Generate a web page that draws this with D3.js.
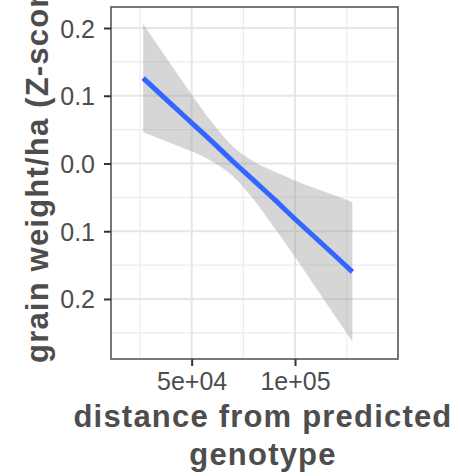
<!DOCTYPE html>
<html>
<head>
<meta charset="utf-8">
<script src="https://cdn.jsdelivr.net/npm/d3@7"></script>
<style>
  html, body { margin: 0; padding: 0; background: #fff; }
  svg { display: block; }
</style>
</head>
<body>
<svg id="chart" width="461" height="476"></svg>
<script>
// ---- data ----
const distance = [26570, 40000, 50000, 60000, 70000, 80000, 90000, 100000, 110000, 120000, 127730];
const fitted   = [0.126, 0.088, 0.060, 0.032, 0.003, -0.025, -0.053, -0.082, -0.110, -0.138, -0.160];
const upperCI  = [0.206, 0.146, 0.102, 0.060, 0.025, 0.003, -0.012, -0.025, -0.037, -0.048, -0.057];
const lowerCI  = [0.046, 0.030, 0.018, 0.003, -0.019, -0.053, -0.095, -0.138, -0.183, -0.228, -0.263];

const yTickValues = [0.2, 0.1, 0.0, -0.1, -0.2];
const yTickLabels = ["0.2", "0.1", "0.0", "0.1", "0.2"];
const yMinorValues = [0.15, 0.05, -0.05, -0.15, -0.25];
const xTickValues = [50000, 100000];
const xTickLabels = ["5e+04", "1e+05"];
const xMinorValues = [25000, 75000, 125000];

const xTitleLines = ["distance from predicted", "genotype"];
const yTitle = "grain weight/ha (Z-score)";

// ---- layout ----
const svg = d3.select("#chart");
const panel = { left: 111, top: 7, right: 398, bottom: 359 };

const x = d3.scaleLinear().domain([11000, 149800]).range([panel.left, panel.right]);
const y = d3.scaleLinear().domain([-0.2886, 0.231]).range([panel.bottom, panel.top]);

const rows = distance.map((d, i) => ({ d, fit: fitted[i], lo: lowerCI[i], hi: upperCI[i] }));

// panel background
svg.append("rect")
  .attr("x", panel.left).attr("y", panel.top)
  .attr("width", panel.right - panel.left).attr("height", panel.bottom - panel.top)
  .attr("fill", "#fff");

const grid = svg.append("g");
// minor grid
grid.selectAll(".ymin").data(yMinorValues).join("line")
  .attr("x1", panel.left).attr("x2", panel.right)
  .attr("y1", d => y(d)).attr("y2", d => y(d))
  .attr("stroke", "#EBEBEB").attr("stroke-width", 1.1);
grid.selectAll(".xmin").data(xMinorValues).join("line")
  .attr("y1", panel.top).attr("y2", panel.bottom)
  .attr("x1", d => x(d)).attr("x2", d => x(d))
  .attr("stroke", "#EBEBEB").attr("stroke-width", 1.1);
// major grid
grid.selectAll(".ymaj").data(yTickValues).join("line")
  .attr("x1", panel.left).attr("x2", panel.right)
  .attr("y1", d => y(d)).attr("y2", d => y(d))
  .attr("stroke", "#E6E6E6").attr("stroke-width", 2);
grid.selectAll(".xmaj").data(xTickValues).join("line")
  .attr("y1", panel.top).attr("y2", panel.bottom)
  .attr("x1", d => x(d)).attr("x2", d => x(d))
  .attr("stroke", "#E6E6E6").attr("stroke-width", 2);

// confidence ribbon
const area = d3.area()
  .x(r => x(r.d)).y0(r => y(r.lo)).y1(r => y(r.hi))
  .curve(d3.curveMonotoneX);
svg.append("path").datum(rows)
  .attr("d", area)
  .attr("fill", "#999999").attr("fill-opacity", 0.4);

// fitted line
const line = d3.line().x(r => x(r.d)).y(r => y(r.fit)).curve(d3.curveMonotoneX);
svg.append("path").datum(rows)
  .attr("d", line)
  .attr("fill", "none").attr("stroke", "#3366FF").attr("stroke-width", 5);

// panel border
svg.append("rect")
  .attr("x", panel.left).attr("y", panel.top)
  .attr("width", panel.right - panel.left).attr("height", panel.bottom - panel.top)
  .attr("fill", "none").attr("stroke", "#555555").attr("stroke-width", 1.6);

// axes
const yAxis = d3.axisLeft(y).tickValues(yTickValues)
  .tickFormat((d, i) => yTickLabels[i]).tickSize(7).tickPadding(9);
const gy = svg.append("g").attr("transform", `translate(${panel.left},0)`).call(yAxis);
const xAxis = d3.axisBottom(x).tickValues(xTickValues)
  .tickFormat((d, i) => xTickLabels[i]).tickSize(7).tickPadding(5);
const gx = svg.append("g").attr("transform", `translate(0,${panel.bottom})`).call(xAxis);

[gx, gy].forEach(g => {
  g.select(".domain").remove();
  g.selectAll(".tick line").attr("stroke", "#333333").attr("stroke-width", 2);
  g.selectAll(".tick text")
    .attr("fill", "#4D4D4D")
    .style("font-family", "'Liberation Sans', Arial, sans-serif")
    .style("font-size", "25px");
});
gy.selectAll(".tick text").attr("dy", "0.36em");
gx.selectAll(".tick text").attr("dy", "0.74em");

// x title
svg.append("text")
  .attr("text-anchor", "middle")
  .attr("fill", "#4D4D4D")
  .style("font-family", "'Liberation Sans', Arial, sans-serif")
  .style("font-weight", "bold")
  .style("font-size", "31px")
  .style("letter-spacing", "1.2px")
  .selectAll("tspan").data(xTitleLines).join("tspan")
  .attr("x", 263)
  .attr("y", (d, i) => 427 + i * 38)
  .text(d => d);

// y title
svg.append("text")
  .attr("transform", "translate(48,363) rotate(-90)")
  .attr("text-anchor", "start")
  .attr("fill", "#4D4D4D")
  .style("font-family", "'Liberation Sans', Arial, sans-serif")
  .style("font-weight", "bold")
  .style("font-size", "31px")
  .style("letter-spacing", "1.2px")
  .text(yTitle);
</script>
</body>
</html>
